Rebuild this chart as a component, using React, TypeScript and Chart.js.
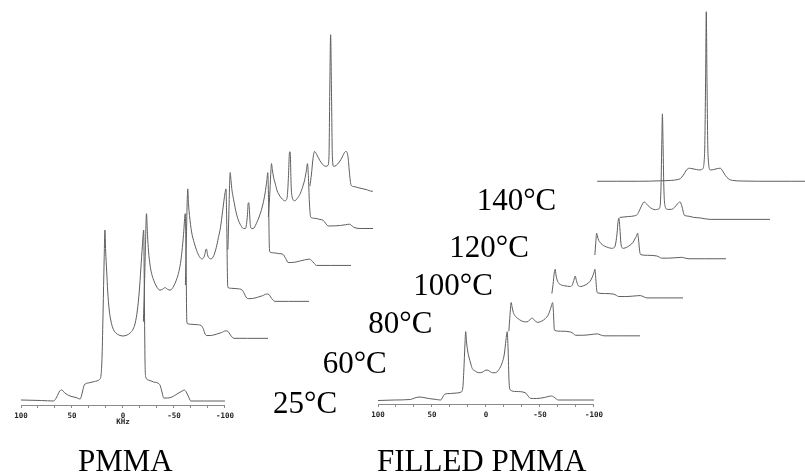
import React, { useEffect, useRef } from "react";
import { Chart, registerables } from "chart.js";

Chart.register(...registerables);

type Pt = [number, number]; // [frequency kHz, intensity]

// ---------- labels ----------
const temperatures = ["25°C", "60°C", "80°C", "100°C", "120°C", "140°C"];
const panelTitles = ["PMMA", "FILLED PMMA"];
const axisUnit = "KHz";
const labeledTicks = [100, 50, 0, -50, -100];
const minorPerInterval = 3;

// ---------- PMMA spectra (kHz, intensity) ----------
const pmma25: Pt[] = [
  [100, 1], [80, 0.5], [68, 0], [65, 4], [62, 10], [60, 11], [57, 8], [52, 5], [46, 3.5], [42, 2], [40, 8],
  [38, 16], [34, 18], [28, 19.5], [23, 21.5], [21.5, 26], [20.5, 45], [19.5, 90], [18.5, 140], [17.7, 171],
  [17, 150], [16, 130], [15, 110], [13.5, 91], [12, 81], [10, 73], [7, 68], [4, 66], [0, 65], [-4, 66],
  [-7, 68], [-10, 72], [-12, 78], [-14, 90], [-16, 110], [-17.5, 132], [-19, 155], [-20.3, 171], [-21, 100],
  [-21.6, 40], [-22.3, 24], [-25, 21], [-30, 19], [-36, 16.5], [-38, 10], [-40, 3], [-44, 3], [-48, 4],
  [-53, 7], [-58, 10], [-60, 11], [-62, 9], [-64, 5], [-66.5, 0], [-80, 0], [-100, 0],
];
const pmma60: Pt[] = [
  [21, 20], [20, 60], [19, 110], [18, 150], [17, 125], [16, 105], [14.5, 88], [13, 78], [11, 70], [8.5, 63],
  [5, 58], [2.5, 59], [0, 61], [-2.5, 59], [-5, 58], [-8.5, 63], [-11, 70], [-13, 78], [-15, 90],
  [-16.5, 105], [-18, 125], [-19.7, 150], [-20.5, 90], [-21, 30], [-21.5, 18], [-25, 17], [-30, 16.5],
  [-35, 15.5], [-37, 12], [-39, 5], [-40.5, 3.3], [-45, 3.5], [-50, 5], [-55, 7], [-59, 9], [-61, 8.5],
  [-63.5, 4], [-67, 0], [-80, 0], [-100, 0],
];
const pmma80: Pt[] = [
  [20, 20], [19, 80], [18.2, 125], [17.7, 137.7], [17, 120], [16, 105], [14, 85], [11.5, 72], [9, 62],
  [6.5, 55], [4, 52], [2.5, 53], [1.2, 57], [0.3, 63], [-0.5, 64], [-1.5, 57], [-3, 53], [-5, 52],
  [-7.5, 56], [-10, 66], [-12, 78], [-14, 90], [-16.2, 111], [-18.5, 133], [-19.4, 137.7], [-20.2, 90],
  [-20.8, 30], [-21.3, 17], [-25, 16], [-30, 15.5], [-35, 14], [-37, 10], [-39, 5], [-41, 3.3], [-45, 3.5],
  [-50, 5], [-55, 7], [-59, 9], [-61, 8.5], [-63.5, 4], [-67, 0], [-80, 0], [-100, 0],
];
const pmma100: Pt[] = [
  [19.5, 20], [18.5, 70], [17.8, 105], [17.3, 118], [16.5, 108], [15.5, 95], [14, 84], [12, 70], [9.5, 58],
  [7, 51], [4.5, 47], [2.5, 47], [1.5, 52], [0.5, 65], [-0.2, 79], [-0.8, 79.7], [-1.4, 70], [-2.2, 52],
  [-3.5, 47], [-5.2, 47], [-8, 53], [-11.7, 65], [-14.5, 78], [-16.6, 92], [-18.3, 108], [-19.2, 118],
  [-20, 80], [-20.6, 30], [-21.2, 17], [-25, 16], [-30, 15], [-34, 14], [-36.5, 9], [-39, 3.7], [-45, 4],
  [-50, 5.5], [-55, 7], [-59.4, 8], [-62, 6], [-64, 3], [-66.5, 0], [-80, 0], [-100, 0],
];
const pmma120: Pt[] = [
  [20, 15], [18.5, 50], [17.5, 78], [17, 86], [16.2, 78], [15, 68], [13.8, 61.7], [11.5, 50], [8.9, 43],
  [6.5, 39], [4.1, 36.7], [2.5, 38], [1.5, 45], [0.5, 70], [-0.3, 98], [-0.8, 101.7], [-1.3, 98], [-2, 60],
  [-3, 42], [-5.6, 36.7], [-8, 40], [-10.5, 45], [-13, 54], [-15.3, 65], [-17, 78], [-17.9, 86], [-18.8, 70],
  [-19.8, 35], [-21.1, 15], [-25, 13.5], [-30, 12], [-33, 11], [-35.5, 7], [-38, 3.3], [-45, 3.5], [-50, 4],
  [-55, 5], [-58.9, 5.7], [-61.5, 3], [-64, 1], [-70, 0], [-100, 0],
];
const pmma140: Pt[] = [
  [19.5, 6], [18, 20], [16.5, 38], [15, 46.3], [13, 43], [10, 36], [7, 31], [4, 29], [2, 30], [1, 40],
  [0.2, 120], [-0.6, 182], [-1.4, 120], [-2.3, 40], [-3.5, 29], [-6, 30], [-9, 34], [-12, 40], [-14, 45],
  [-15.7, 46.3], [-17.5, 40], [-19, 20], [-20.5, 7], [-23, 5.5], [-28, 4], [-35, 2], [-41, 0], [-60, 0],
  [-100, 0],
];

// ---------- FILLED PMMA spectra (kHz, intensity) ----------
const filled25: Pt[] = [
  [100, -0.5], [85, 0], [70, 0.5], [66, 2], [62, 3], [59, 2.7], [53, 1.5], [46, 0.5], [42, 0], [40, 3],
  [38, 6], [33, 6.5], [27, 7], [23, 8], [21.5, 12], [20.5, 30], [19.5, 55], [18.8, 68.3], [18, 58],
  [16.8, 48], [15.8, 43], [14, 36], [12.8, 31.7], [10, 29], [6.6, 27.3], [3, 28], [1, 29.5], [-1, 30],
  [-3, 29], [-6, 27.3], [-8.7, 27.3], [-12, 30.5], [-14.8, 36.7], [-17, 46], [-18.5, 60], [-19.6, 68.3],
  [-20.5, 50], [-21.3, 20], [-22.5, 10], [-28, 8.5], [-36.3, 7.3], [-39, 4], [-41, 1.7], [-47, 1.5],
  [-54, 2.5], [-60.7, 4], [-64, 2], [-67, 0], [-80, 0], [-100, 0],
];
const filled60: Pt[] = [
  [20.3, 8], [19.5, 30], [18.7, 50], [18.2, 57.3], [17.4, 50], [16.6, 43], [15.8, 38.3], [14, 33],
  [12.1, 30], [9, 26], [5, 24], [2.5, 25], [0.5, 29], [-1.1, 30.6], [-3, 27], [-6.2, 23.3], [-9.5, 25],
  [-13.3, 30], [-15.5, 35], [-17.3, 43], [-18.8, 52], [-19.8, 57.3], [-20.6, 40], [-21.2, 15], [-21.8, 9.4],
  [-27, 8], [-36.3, 6.6], [-39, 3.5], [-40.9, 1], [-47, 1], [-54, 2], [-60.8, 3.4], [-64, 1.5], [-67, 0],
  [-80, 0], [-100, 0],
];
const filled80: Pt[] = [
  [20.3, 8], [19.2, 25], [18.2, 45], [17.3, 52.6], [16.5, 42], [15.5, 33], [14.2, 27.6], [12, 24],
  [9.6, 22.6], [6, 21.5], [3.5, 21], [1.8, 23], [0.2, 32], [-1.1, 40.3], [-2.2, 32], [-3.8, 23], [-5.7, 21],
  [-9, 22.5], [-13.3, 27.6], [-15.5, 33], [-17.3, 41], [-18.5, 48], [-19.2, 52.6], [-20, 35], [-20.8, 15],
  [-21.6, 9.3], [-28, 8], [-36.3, 7], [-39, 4.5], [-40.9, 2.6], [-47, 2.5], [-54, 3.3], [-60.8, 4.3],
  [-64, 2], [-67, 0], [-80, 0], [-100, 0],
];
const filled100: Pt[] = [
  [20.3, 6], [19.5, 25], [18.7, 41], [17.8, 35], [16.8, 29.5], [15.7, 26.7], [13.5, 22.5], [11.1, 20],
  [8, 18], [5, 16.7], [3, 17.5], [1.5, 22], [0, 40], [-1, 60], [-1.8, 65], [-2.6, 50], [-3.6, 25],
  [-4.5, 18], [-5.7, 16.7], [-9, 18.5], [-11.9, 21.7], [-14.5, 26], [-16.4, 31.7], [-18, 37], [-18.9, 41],
  [-19.8, 30], [-20.8, 12], [-21.7, 6.7], [-28, 5.5], [-36.4, 4.5], [-39, 2.5], [-40.9, 1], [-47, 1],
  [-54, 1.7], [-59.3, 2.3], [-62.5, 1], [-66, 0], [-80, 0], [-100, 0],
];
const filled120: Pt[] = [
  [38, 2.4], [30, 3.5], [24, 4.5], [21.8, 6], [19.5, 12], [17, 19], [15.5, 21.7], [14, 20], [11, 16],
  [8, 13], [5, 12], [3, 12.5], [1, 15], [0, 40], [-0.8, 100], [-1.3, 130.7], [-1.8, 100], [-2.6, 40],
  [-4, 15], [-6, 12.4], [-9.5, 12.4], [-12.5, 15], [-15, 19], [-17.4, 21.7], [-19, 17], [-20.3, 10],
  [-21.1, 5.7], [-25, 4], [-30, 2.5], [-36.4, 1.7], [-45, 0], [-100, 0],
];
const filled140: Pt[] = [
  [98, 0], [80, 0], [60, 0], [40, 0.5], [30, 1], [24, 2], [21.8, 3], [19, 7], [16, 13], [13.5, 15],
  [11, 14.5], [7, 13.5], [3.5, 13], [1.5, 14], [-0.5, 30], [-1.5, 120], [-2.1, 195], [-2.7, 120],
  [-3.7, 30], [-5.8, 13], [-9, 13.5], [-12, 14.5], [-15, 15], [-17, 12], [-19.6, 6.7], [-22.6, 2.7],
  [-26, 1], [-35, 0.3], [-50, 0], [-80, 0], [-100, 0],
];

const pmmaSpectra = [pmma25, pmma60, pmma80, pmma100, pmma120, pmma140];
const filledSpectra = [filled25, filled60, filled80, filled100, filled120, filled140];

// ---------- layout (positions in page pixels) ----------
const PANELS = [
  { title: panelTitles[0], spectra: pmmaSpectra, x100: 20.7, pxPerKHz: 1.03, baseY: 401, dx: 41.3, dy: 36.8, clipW: 373, unit: axisUnit, titleX: 78 },
  { title: panelTitles[1], spectra: filledSpectra, x100: 378.3, pxPerKHz: 1.0885, baseY: 400, dx: 43.3, dy: 38.66, clipW: 805, unit: "", titleX: 377 },
];
const tempLabelPos: [number, number][] = [[273, 413], [322.7, 373], [368.3, 333.3], [413.3, 295], [449.3, 256.7], [476.7, 210]];
const TITLE_BASELINE = 471;
const PAD = 12;
const AXIS_H = 26;
const LINE_COLOR = "#5e5e5e";

function tickValues(): number[] {
  const out: number[] = [];
  for (let i = 0; i < labeledTicks.length; i++) {
    out.push(labeledTicks[i]);
    if (i < labeledTicks.length - 1) {
      const a = labeledTicks[i];
      const b = labeledTicks[i + 1];
      for (let k = 1; k < minorPerInterval; k++) out.push(a + ((b - a) * k) / minorPerInterval);
    }
  }
  return out;
}

type SpecProps = { data: Pt[]; x100: number; pxPerKHz: number; baseY: number; axis: boolean; unit: string; z: number };

function Spectrum({ data, x100, pxPerKHz, baseY, axis, unit, z }: SpecProps) {
  const ref = useRef<HTMLCanvasElement>(null);
  const hs = data.map((d) => d[1]);
  const yMax = Math.ceil(Math.max(...hs) + 2);
  const yMin = axis ? -4 : Math.floor(Math.min(...hs) - 2);
  const areaW = Math.round(200 * pxPerKHz);
  const areaH = yMax - yMin;
  const w = areaW + 2 * PAD;
  const h = areaH + 2 * PAD + (axis ? AXIS_H : 0);
  const left = Math.round(x100 - PAD);
  const top = Math.round(baseY - yMax - PAD);

  useEffect(() => {
    if (!ref.current) return;
    const ticks = tickValues();
    const chart = new Chart(ref.current, {
      type: "scatter",
      data: {
        datasets: [
          {
            data: data.map(([x, y]) => ({ x, y })),
            showLine: true,
            borderColor: LINE_COLOR,
            borderWidth: 1,
            pointRadius: 0,
            cubicInterpolationMode: "monotone",
            fill: false,
          } as any,
        ],
      },
      options: {
        animation: false,
        responsive: false,
        maintainAspectRatio: false,
        devicePixelRatio: 1,
        events: [],
        layout: { padding: PAD },
        plugins: { legend: { display: false }, tooltip: { enabled: false }, title: { display: false } },
        scales: {
          x: {
            type: "linear",
            min: -100,
            max: 100,
            reverse: true,
            display: axis,
            afterFit: (s: any) => {
              s.height = AXIS_H;
            },
            afterBuildTicks: (s: any) => {
              s.ticks = ticks.map((v) => ({ value: v }));
            },
            ticks: {
              autoSkip: false,
              maxRotation: 0,
              minRotation: 0,
              padding: 5,
              color: "#222",
              font: { family: "'DejaVu Sans Mono', monospace", size: 7.5, weight: "bold", lineHeight: 0.8 },
              callback: (v: any) => {
                if (!labeledTicks.includes(v)) return "";
                if (v === 0 && unit) return ["0", unit];
                return String(v);
              },
            },
            grid: { drawOnChartArea: false, drawTicks: true, tickLength: 3, color: "#8a8a8a" },
            border: { display: true, color: "#8a8a8a", width: 1 },
          } as any,
          y: { type: "linear", display: false, min: yMin, max: yMax },
        },
      },
    });
    return () => chart.destroy();
  }, []);

  return (
    <canvas
      ref={ref}
      width={w}
      height={h}
      style={{ position: "absolute", left, top, width: w, height: h, zIndex: z }}
    />
  );
}

const labelStyle = (left: number, baseline: number): React.CSSProperties => ({
  position: "absolute",
  left,
  top: baseline - 26,
  fontFamily: "'Liberation Serif', 'Times New Roman', serif",
  fontSize: 31,
  lineHeight: "31px",
  color: "#000",
  whiteSpace: "nowrap",
  zIndex: 50,
});

export default function App() {
  return (
    <div style={{ position: "absolute", left: 0, top: 0, width: 805, height: 475, overflow: "hidden", background: "#fff" }}>
      {PANELS.map((p, pi) => (
        <div key={pi} style={{ position: "absolute", left: 0, top: 0, width: p.clipW, height: 475, overflow: "hidden" }}>
          {p.spectra.map((s, i) => (
            <Spectrum
              key={i}
              data={s}
              x100={p.x100 + i * p.dx}
              pxPerKHz={p.pxPerKHz}
              baseY={p.baseY - i * p.dy}
              axis={i === 0}
              unit={p.unit}
              z={20 - i}
            />
          ))}
        </div>
      ))}
      {temperatures.map((t, i) => (
        <div key={t} style={labelStyle(tempLabelPos[i][0], tempLabelPos[i][1])}>
          {t}
        </div>
      ))}
      {PANELS.map((p, pi) => (
        <div key={"t" + pi} style={labelStyle(p.titleX, TITLE_BASELINE)}>
          {p.title}
        </div>
      ))}
    </div>
  );
}
